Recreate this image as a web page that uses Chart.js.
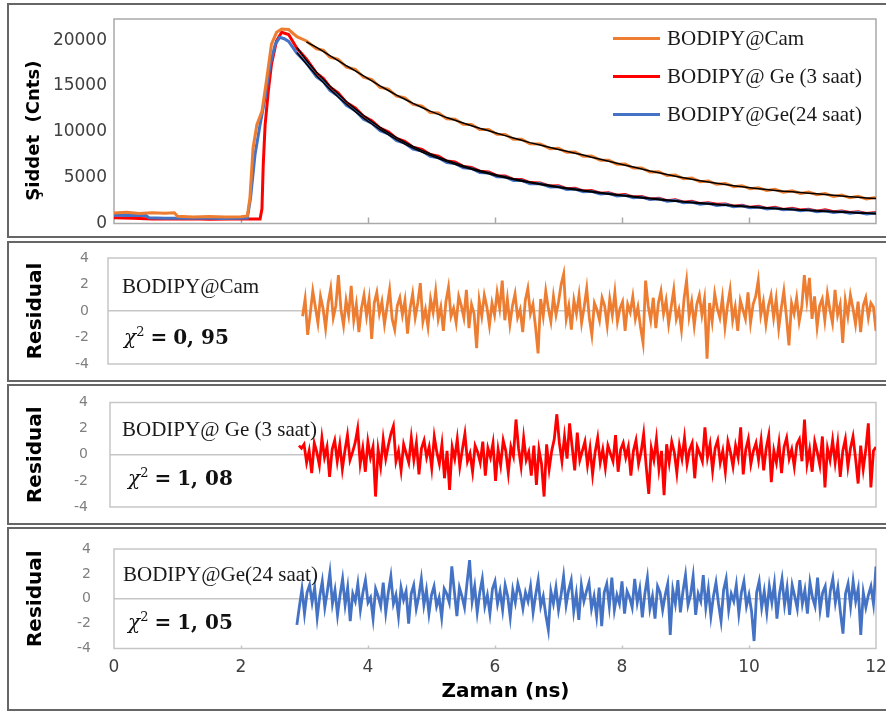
<!DOCTYPE html>
<html>
<head>
<meta charset="utf-8">
<script src="https://cdn.jsdelivr.net/npm/chart.js@4.4.1/dist/chart.umd.min.js"></script>
<style>
  body { margin: 0; width: 886px; height: 711px; background: #fff; position: relative; overflow: hidden; }
  .frame { position: absolute; left: 7px; width: 882px; border: 2px solid #666; box-sizing: border-box; }
  .frame canvas { display: block; }
  .note { position: absolute; font-family: 'Liberation Serif', serif; font-size: 21px; line-height: 24px; color: #1a1a1a; white-space: nowrap; z-index: 2; }
  .chi { font-family: 'DejaVu Serif', serif; font-size: 20px; color: #111; }
  .chi sup { font-size: 13px; line-height: 0; vertical-align: 8px; }
  .chi .eq { margin: 0 6px; font-weight: bold; }
  #legend { position: absolute; left: 613px; top: 19px; z-index: 2; font-family: 'Liberation Serif', serif; font-size: 21px; color: #1a1a1a; }
  .lg-row { height: 38px; display: flex; align-items: center; white-space: nowrap; }
  .lg-line { display: inline-block; width: 47px; height: 3px; margin-right: 7px; }
</style>
</head>
<body>
<div class="frame" style="top:3px;height:235px"><canvas id="decay" width="878" height="231"></canvas></div>
<div class="frame" style="top:241px;height:141px"><canvas id="res0" width="878" height="137"></canvas></div>
<div class="frame" style="top:384px;height:141px"><canvas id="res1" width="878" height="137"></canvas></div>
<div class="frame" style="top:527px;height:184px"><canvas id="res2" width="878" height="180"></canvas></div>
<div id="legend"></div>

<script>
// ---- data ----
const seriesLabels = ['BODIPY@Cam', 'BODIPY@ Ge (3 saat)', 'BODIPY@Ge(24 saat)'];
const seriesColors = ['#ED7D31', '#FF0000', '#4472C4'];
const chiSquare = ['0, 95', '1, 08', '1, 05'];
const countTicks = [0, 5000, 10000, 15000, 20000];

// rising edge (ns / counts) for each sample
const camRiseTime = [0, 0.2, 0.4, 0.6, 0.8, 0.95, 1.0, 1.25, 1.5, 1.75, 2.0, 2.1, 2.14, 2.19, 2.25, 2.33, 2.40, 2.48, 2.56, 2.64];
const camRise = [1150, 1220, 1100, 1180, 1130, 1160, 780, 720, 760, 700, 740, 820, 2750, 8240, 10770, 12230, 15530, 19560, 20850, 21210];
const ge3RiseTime = [0, 0.3, 0.6, 0.9, 1.2, 1.5, 1.8, 2.1, 2.30, 2.33, 2.35, 2.38, 2.43, 2.48, 2.56, 2.64];
const ge3Rise = [620, 560, 500, 480, 520, 470, 500, 480, 500, 1610, 6370, 10770, 14430, 17360, 19930, 20850];
const ge24RiseTime = [0, 0.25, 0.5, 0.55, 0.8, 1.1, 1.4, 1.7, 2.0, 2.1, 2.15, 2.22, 2.30, 2.38, 2.46, 2.54, 2.61, 2.68];
const ge24Rise = [900, 870, 880, 620, 580, 560, 600, 550, 580, 600, 2750, 7470, 10770, 13700, 17360, 19560, 20300, 20150];

// decay part, shared time grid
const tailTime = [2.75, 2.88, 3.03, 3.19, 3.30, 3.40, 3.53, 3.66, 3.80, 3.93, 4.06, 4.19, 4.32, 4.45, 4.58, 4.71, 4.85, 4.98, 5.11, 5.24,
  5.37, 5.50, 5.63, 5.76, 5.90, 6.03, 6.16, 6.29, 6.42, 6.55, 6.71, 6.87, 7.00, 7.13, 7.26, 7.39, 7.52, 7.66, 7.79, 7.92,
  8.05, 8.18, 8.31, 8.44, 8.58, 8.71, 8.84, 8.97, 9.10, 9.23, 9.36, 9.49, 9.63, 9.76, 9.89, 10.02, 10.15, 10.28, 10.41, 10.54,
  10.68, 10.81, 10.94, 11.07, 11.20, 11.33, 11.46, 11.59, 11.72, 11.85, 12.0];
const camTail = [21150, 20380, 19900, 19050, 18880, 18150, 17900, 17050, 16800, 15950, 15700, 14850, 14650, 13900, 13700, 12980, 12800, 12100, 12050, 11420,
  11380, 10820, 10800, 10250, 10250, 9720, 9700, 9200, 9200, 8700, 8680, 8160, 8200, 7760, 7800, 7340, 7350, 6900, 6910, 6470,
  6480, 6040, 6060, 5620, 5650, 5230, 5280, 4880, 4950, 4560, 4640, 4270, 4370, 4010, 4120, 3780, 3900, 3590, 3730, 3420,
  3570, 3270, 3430, 3130, 3270, 2960, 3110, 2800, 2970, 2680, 2830];
const ge3Tail = [20600, 19100, 17950, 16400, 15800, 14900, 14250, 13200, 12600, 11700, 11200, 10400, 10000, 9280, 8950, 8320, 8080, 7520, 7330, 6820,
  6700, 6230, 6120, 5700, 5630, 5220, 5190, 4810, 4800, 4460, 4430, 4080, 4110, 3800, 3840, 3550, 3600, 3310, 3360, 3080,
  3150, 2880, 2950, 2680, 2750, 2490, 2580, 2330, 2420, 2170, 2270, 2100, 2120, 1880, 1990, 1760, 1870, 1640, 1760, 1530,
  1650, 1480, 1560, 1330, 1490, 1280, 1360, 1190, 1270, 1100, 1190];
const ge24Tail = [19850, 18550, 17500, 15980, 15450, 14520, 13900, 12880, 12300, 11380, 10950, 10130, 9780, 9040, 8760, 8110, 7900, 7320, 7180, 6650,
  6550, 6070, 6000, 5550, 5510, 5090, 5080, 4690, 4710, 4340, 4350, 3980, 4020, 3710, 3760, 3460, 3520, 3220, 3290, 3000,
  3080, 2800, 2880, 2610, 2690, 2420, 2520, 2260, 2350, 2110, 2200, 1970, 2060, 1830, 1930, 1710, 1810, 1590, 1700, 1490,
  1590, 1380, 1490, 1290, 1400, 1200, 1310, 1110, 1230, 1040, 1150];

// fitted curves (black), null = not fitted
const camFit = [null, null, 19800, 19200, 18750, 18300, 17750, 17200, 16650, 16100, 15550, 15000, 14500, 14000, 13550, 13100, 12650, 12250, 11900, 11550,
  11250, 10950, 10660, 10380, 10110, 9850, 9580, 9320, 9070, 8820, 8550, 8280, 8080, 7880, 7670, 7460, 7230, 7010, 6790, 6580,
  6360, 6150, 5940, 5730, 5530, 5340, 5160, 4990, 4830, 4670, 4520, 4380, 4250, 4120, 4000, 3890, 3790, 3700, 3610, 3530,
  3450, 3380, 3310, 3240, 3150, 3070, 2990, 2910, 2850, 2790, 2720];
const ge3Fit = [null, 19200, 17800, 16500, 15700, 15000, 14150, 13300, 12500, 11780, 11100, 10480, 9900, 9360, 8860, 8400, 7980, 7600, 7240, 6900,
  6600, 6310, 6030, 5780, 5530, 5300, 5090, 4890, 4710, 4540, 4340, 4160, 4020, 3880, 3750, 3630, 3510, 3390, 3270, 3160,
  3060, 2960, 2860, 2760, 2660, 2570, 2490, 2410, 2330, 2250, 2180, 2110, 2030, 1960, 1900, 1840, 1780, 1720, 1670, 1610,
  1560, 1500, 1450, 1410, 1360, 1310, 1270, 1220, 1180, 1140, 1100];
const ge24Fit = [null, 18650, 17400, 16100, 15350, 14650, 13800, 13000, 12200, 11500, 10850, 10250, 9680, 9150, 8660, 8220, 7800, 7430, 7080, 6750,
  6450, 6170, 5900, 5650, 5410, 5190, 4980, 4790, 4610, 4440, 4250, 4070, 3930, 3800, 3670, 3550, 3430, 3310, 3200, 3090,
  2990, 2890, 2790, 2700, 2600, 2510, 2430, 2350, 2270, 2190, 2120, 2050, 1980, 1910, 1850, 1790, 1730, 1670, 1620, 1570,
  1510, 1460, 1410, 1370, 1320, 1280, 1230, 1190, 1150, 1110, 1070];

// weighted residuals, one value per channel
const channelWidth = 0.04;
const residualStart = [3.04, 2.96, 2.88];
const camResidual = [
  -0.4, 0.9, -1.8, -0.2, 1.5, 0.3, -0.9, 1.1, 0.2, -1.3, 0.6, 1.7, -0.5, 0.4, 2.7,
  0.1, -1.1, 0.8, -0.3, 1.9, -0.7, 0.5, -1.6, 0.2, 1.2, -0.4, 0.9, -2.1, 0.6, 1.4,
  -0.2, 0.7, -1.0, 0.3, 1.6, -0.6, -1.4, 0.4, 1.0, -0.3, 0.8, -1.7, 0.2, 1.3, -0.5,
  0.6, 2.1, -0.8, 0.1, -1.2, 0.9, -0.1, 1.5, -0.6, 0.3, -1.5, 0.7, 1.8, -0.4, 0.2,
  -0.9, 1.1, 0.4, -0.5, 1.6, -1.3, 0.5, -0.2, -2.8, 0.8, -0.4, 1.2, 0.3, -1.1, 0.6,
  -0.3, 1.4, 0.2, 2.3, -0.7, 0.9, -1.0, 0.4, 1.3, -0.5, 0.1, -1.6, 0.8, 1.7, -0.2,
  0.5, -1.2, -3.2, 0.9, -0.4, 1.5, 0.2, -0.8, 1.1, -0.3, 0.7, 2.0, 2.8, -0.6, 0.4,
  -1.4, 0.8, -0.2, 1.2, -0.9, 0.3, 1.7, -0.5, -1.8, 0.6, 0.1, -0.7, 1.0, 0.4, -1.1,
  0.9, -0.3, 1.4, -0.8, 0.2, 0.7, -1.5, 0.5, -0.1, 1.1, -0.6, 0.3, -1.2, -2.4, 2.3,
  0.4, -0.7, 1.0, -1.3, 0.6, 1.5, -0.2, 0.8, -1.0, 0.3, 1.6, -0.6, 0.1, -1.4, 0.9,
  2.3, -0.4, 0.7, -1.1, 0.5, 1.2, -0.3, 0.9, -3.6, 0.6, -0.8, 1.3, 0.2, -0.5, 1.0,
  -1.2, 0.4, 1.6, -0.7, 0.3, -1.5, 0.8, 0.1, -0.6, 1.4, -0.9, 0.5, 1.1, 2.3, -0.3,
  0.7, -1.0, 0.4, 1.2, -0.5, 0.9, -1.3, 0.2, 1.5, -0.4, -2.6, 0.6, -0.2, 1.0, -0.8,
  0.3, 2.7, 0.8, 2.5, -0.6, 1.1, -1.2, 0.4, 0.9, -0.7, 1.3, 0.1, -0.9, 1.6, -0.3,
  0.5, -2.4, 0.8, -0.4, 1.2, 0.2, -1.0, 0.7, -1.6, 0.4, 1.0, -0.5, 0.6, 0.3, -1.5];
const ge3Residual = [
  0.7, 0.5, 0.8, -0.6, 0.3, -1.4, 0.9, 0.2, -0.8, 1.3, -0.2, 0.6, -1.7, 0.4, 1.1,
  -0.5, 0.8, -1.1, 0.3, 1.5, -0.4, 0.2, 0.9, 2.0, -0.7, 0.5, -1.3, 1.0, -0.2, 0.6,
  -3.2, 0.4, -0.9, 1.2, -0.3, 0.7, 1.6, 2.2, -0.5, 0.3, -1.2, 0.8, 0.1, -0.6, 1.3,
  -0.4, 0.9, -1.5, 0.5, 1.1, -0.2, 0.6, -1.0, 1.4, 0.2, -0.7, 0.8, -1.8, 0.3, -2.7,
  0.6, -0.3, 1.2, -0.9, 0.4, 1.6, -0.5, 0.1, -1.3, 0.7, 0.2, -0.6, 1.0, -1.6, 0.5,
  -0.2, 0.9, -2.0, 0.4, -0.8, 1.1, 0.3, -1.4, 0.6, -0.1, 2.7, 0.5, -0.9, 1.3, -0.4,
  0.2, -1.6, 0.7, -2.3, 0.4, -0.7, -3.2, 0.8, -1.1, 0.3, 1.2, 3.1, 0.9, -0.5, 1.4,
  -0.3, 2.4, 0.6, -1.2, 1.7, -0.4, 0.3, 1.0, -0.8, 0.5, -1.5, 0.2, 1.3, -0.6, 0.4,
  -1.0, 0.7, 0.1, -0.5, 1.5, -1.3, 0.4, 0.9, -0.2, 0.6, -1.6, 0.3, 1.1, -0.7, 0.2,
  1.6, -0.9, -3.0, 0.5, -0.4, 1.2, -1.1, 0.3, -3.1, 0.8, -0.6, 1.0, 0.2, -1.4, 0.7,
  -0.3, 1.3, -0.7, 0.4, 0.9, -1.8, 0.6, 0.1, -0.5, 2.1, -0.2, 0.8, -1.2, 0.5, 1.1,
  -0.6, 0.3, -1.3, 1.0, 0.2, -0.9, 0.7, -0.2, 2.1, -1.5, 0.4, 1.2, -0.7, 0.3, 0.9,
  -0.4, 1.1, -1.2, 0.5, 1.5, -2.1, 0.3, -0.6, 0.9, -1.4, 0.6, 1.3, -0.3, 0.4, -0.9,
  0.8, 1.2, -0.5, 2.7, -0.7, 0.4, -1.3, 1.0, 0.2, -0.8, 1.4, -2.5, 0.5, -0.4, 1.1,
  -0.6, 0.9, -1.7, 0.3, 1.2, -0.9, 0.5, 1.4, -0.3, -2.2, 0.7, -1.1, 0.4, 2.4, -2.5,
  0.3, 0.6];
const ge24Residual = [
  -2.1, -0.6, 0.8, -1.2, 0.5, 1.1, -0.3, 0.9, -1.5, 0.2, 1.4, -0.7, 0.6, 2.1, -0.4,
  0.7, -1.3, 0.3, 1.6, -0.5, 0.9, -1.8, 0.4, -0.2, 1.2, -0.9, 0.5, 1.5, -0.3, 0.1,
  -1.6, 0.8, 0.2, -0.6, 1.3, -1.1, 0.5, 1.8, -0.4, 0.3, -1.4, 0.9, -0.1, 0.6, -2.0,
  0.4, 1.1, -0.8, 0.2, 1.6, -0.5, 0.7, -1.2, 0.3, 1.0, -0.6, 0.1, -1.5, 0.8, 0.4,
  -0.3, 2.6, 0.6, -1.4, 0.9, 0.2, -0.7, 1.3, 3.1, -0.2, 1.0, -1.1, 0.5, 1.6, -0.6,
  0.3, -1.2, 0.8, 1.4, -0.4, 0.6, -0.9, 1.1, 0.2, -1.5, 0.7, -0.3, 1.2, 0.4, -0.8,
  0.5, -0.2, 1.0, -1.1, 0.3, 1.5, -0.6, 0.2, -1.3, -2.5, 0.6, -0.4, 0.9, -0.9, 0.3,
  1.8, -0.5, 0.7, 1.5, -1.0, 0.4, -1.7, 1.1, -0.2, 0.6, 1.3, -0.8, 0.2, -1.4, 0.9,
  -2.2, 0.5, 1.2, -0.6, 1.7, -0.9, 0.3, -0.4, 1.4, -1.2, 0.6, 0.1, -0.7, 1.6, -0.3,
  0.8, -1.5, 0.4, 1.7, -0.8, 0.2, -1.6, 1.0, 0.5, -0.9, 0.3, 1.2, -2.9, 0.7, -0.4,
  1.5, -1.1, 0.6, 1.9, -0.5, 0.3, 1.8, -1.3, 0.4, -0.2, 1.9, -0.7, 0.8, -1.4, 0.2,
  1.3, -0.4, -1.8, 0.7, 1.6, -0.9, 0.4, -0.2, 1.1, -1.2, 0.5, 1.4, -0.6, 0.3, -1.0,
  -3.4, 0.5, 1.4, -0.7, 0.6, -1.1, 1.0, -0.3, 1.2, -1.6, 0.4, 1.6, -0.5, 0.9, -1.3,
  1.1, 0.2, -0.8, 1.5, -0.4, 0.7, -1.2, 1.3, 0.1, -0.6, 1.7, -0.9, 0.5, 1.0, -1.5,
  0.6, 1.6, -0.3, 0.9, -1.1, -2.8, 0.4, 1.2, -0.6, 1.4, -0.2, 0.8, -2.9, 0.5, -0.7,
  0.3, 1.0, -0.4, 2.6];
const residuals = [camResidual, ge3Residual, ge24Residual];

// ---- helpers ----
Chart.defaults.font.family = "'DejaVu Sans', sans-serif";

const pts = (times, values) => times.map((t, i) => ({ x: t, y: values[i] }));
const fixY = w => s => { s.width = w; s.paddingTop = 0; s.paddingBottom = 0; };
const fixX = h => s => { s.height = h; s.paddingLeft = 0; s.paddingRight = 0; };

// plot-area box plus little inward ticks on the time axis
const plotFrame = {
  id: 'plotFrame',
  beforeDatasetsDraw(chart, args, opts) {
    const { ctx, chartArea: a } = chart;
    ctx.save();
    ctx.strokeStyle = opts.color;
    ctx.lineWidth = opts.width;
    ctx.strokeRect(a.left, a.top, a.right - a.left, a.bottom - a.top);
    if (opts.tickLen) {
      const xs = chart.scales.x;
      xs.ticks.forEach(t => {
        if (t.value <= xs.min || t.value >= xs.max) return;
        const px = Math.round(xs.getPixelForValue(t.value)) + 0.5;
        ctx.beginPath();
        ctx.moveTo(px, a.bottom);
        ctx.lineTo(px, a.bottom - opts.tickLen);
        ctx.stroke();
      });
    }
    ctx.restore();
  }
};
Chart.register(plotFrame);

const line = (data, color, width, order) => ({
  data, borderColor: color, borderWidth: width, pointRadius: 0, tension: 0, order, spanGaps: false
});

// ---- decay panel ----
new Chart(document.getElementById('decay'), {
  type: 'line',
  data: {
    datasets: [
      line(pts(tailTime, camFit), '#000', 1.5, 0),
      line(pts(tailTime, ge3Fit), '#000', 1.5, 0),
      line(pts(tailTime, ge24Fit), '#000', 1.5, 0),
      line(pts(camRiseTime.concat(tailTime), camRise.concat(camTail)), seriesColors[0], 3, 1),
      line(pts(ge24RiseTime.concat(tailTime), ge24Rise.concat(ge24Tail)), seriesColors[2], 3, 2),
      line(pts(ge3RiseTime.concat(tailTime), ge3Rise.concat(ge3Tail)), seriesColors[1], 3, 3)
    ]
  },
  options: {
    responsive: false, animation: false, devicePixelRatio: 1,
    layout: { padding: { left: 0, right: 11, top: 14, bottom: 12.5 } },
    plugins: { legend: { display: false }, tooltip: { enabled: false },
      plotFrame: { color: '#a9a9a9', width: 1.5, tickLen: 6 } },
    scales: {
      x: { type: 'linear', min: 0, max: 12,
        ticks: { display: false, stepSize: 2 },
        grid: { display: false, drawTicks: false }, border: { display: false },
        afterFit: fixX(0) },
      y: { min: 0, max: 22300,
        afterBuildTicks: s => { s.ticks = countTicks.map(v => ({ value: v })); },
        ticks: { autoSkip: false, color: '#404040', font: { size: 17 }, padding: 7, callback: v => String(v) },
        grid: { display: false, drawTicks: false }, border: { display: false },
        title: { display: true, text: 'Şiddet  (Cnts)   ', color: '#000', font: { size: 18, weight: 'bold' }, padding: { top: 15 } },
        afterFit: fixY(105) }
    }
  }
});

// ---- residual panels ----
const residualLayout = [
  { yWidth: 99, top: 15, bottom: 16, xHeight: 0, tickPad: 19 },
  { yWidth: 101, top: 16.5, bottom: 16, xHeight: 0, tickPad: 22 },
  { yWidth: 105, top: 20, bottom: 0, xHeight: 60.5, tickPad: 23, xLabels: true, tickLen: 3 }
];

residuals.forEach((vals, k) => {
  const L = residualLayout[k];
  const data = vals.map((v, i) => ({ x: residualStart[k] + i * channelWidth, y: v }));
  new Chart(document.getElementById('res' + k), {
    type: 'line',
    data: { datasets: [line(data, seriesColors[k], 2.8, 0)] },
    options: {
      responsive: false, animation: false, devicePixelRatio: 1,
      layout: { padding: { left: 0, right: 11, top: L.top, bottom: L.bottom } },
      plugins: { legend: { display: false }, tooltip: { enabled: false },
        plotFrame: { color: '#c6c6c6', width: 1.5, tickLen: L.tickLen || 0 } },
      scales: {
        x: { type: 'linear', min: 0, max: 12,
          ticks: { display: !!L.xLabels, stepSize: 2, autoSkip: false, maxRotation: 0, color: '#404040', font: { size: 17 }, padding: 9 },
          grid: { display: false, drawTicks: false }, border: { display: false },
          title: { display: !!L.xLabels, text: '   Zaman (ns)', color: '#000', font: { size: 20, weight: 'bold' }, padding: { top: 0, bottom: 5 } },
          afterFit: fixX(L.xHeight) },
        y: { min: -4, max: 4,
          ticks: { stepSize: 2, autoSkip: false, color: '#7f7f7f', font: { size: 14 }, padding: L.tickPad },
          grid: { color: c => (c.tick && c.tick.value === 0 ? '#c6c6c6' : 'rgba(0,0,0,0)'), lineWidth: 1.5, drawTicks: false },
          border: { display: false },
          title: { display: true, text: 'Residual', color: '#000', font: { size: 20, weight: 'bold' }, padding: { top: 15 } },
          afterFit: fixY(L.yWidth) }
      }
    }
  });
});

// ---- legend and panel notes ----
const legendBox = document.getElementById('legend');
seriesLabels.forEach((name, k) => {
  const row = document.createElement('div');
  row.className = 'lg-row';
  row.innerHTML = '<span class="lg-line" style="background:' + seriesColors[k] + '"></span><span>' + name + '</span>';
  legendBox.appendChild(row);
});

const notePos = [
  { name: [122, 274], chi: [124, 325] },
  { name: [122, 417], chi: [128, 466] },
  { name: [123, 562], chi: [128, 610] }
];
seriesLabels.forEach((name, k) => {
  const n = document.createElement('div');
  n.className = 'note';
  n.style.left = notePos[k].name[0] + 'px';
  n.style.top = notePos[k].name[1] + 'px';
  n.textContent = name;
  document.body.appendChild(n);

  const c = document.createElement('div');
  c.className = 'note chi';
  c.style.left = notePos[k].chi[0] + 'px';
  c.style.top = notePos[k].chi[1] + 'px';
  c.innerHTML = '<i>χ</i><sup>2</sup><span class="eq">=</span><b>' + chiSquare[k] + '</b>';
  document.body.appendChild(c);
});
</script>
</body>
</html>
